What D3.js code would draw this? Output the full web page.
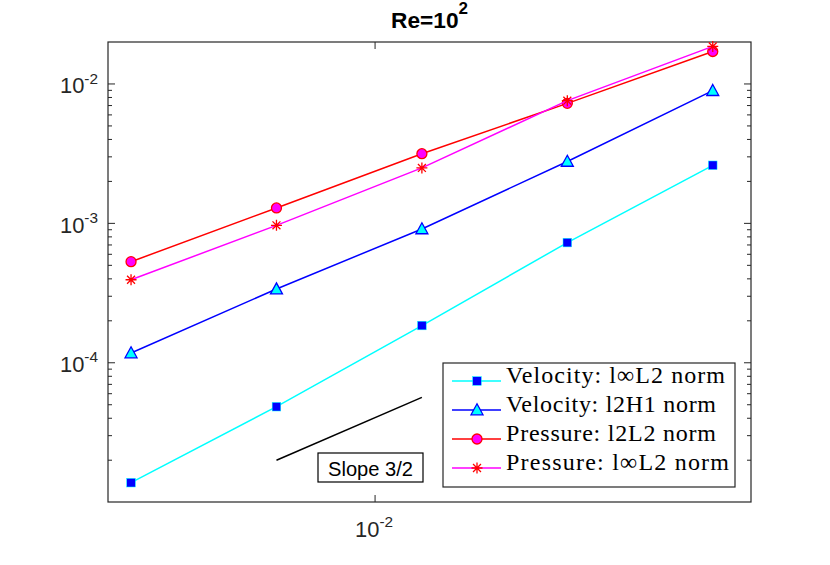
<!DOCTYPE html>
<html>
<head>
<meta charset="utf-8">
<script src="https://cdn.jsdelivr.net/npm/d3@7"></script>
<style>
  html, body { margin: 0; padding: 0; background: #fff; }
  svg { display: block; }
</style>
</head>
<body>
<div id="chart"></div>
<script>
// mesh sizes (x) and error norms (y)
const hVals    = [0.003125, 0.00625, 0.0125, 0.025, 0.05];
const velLinf  = [1.38e-5, 4.84e-5, 1.85e-4, 7.28e-4, 2.61e-3];
const velL2H1  = [1.175e-4, 3.38e-4, 9.12e-4, 2.78e-3, 8.95e-3];
const presL2   = [5.31e-4, 1.29e-3, 3.16e-3, 7.26e-3, 1.71e-2];
const presLinf = [3.94e-4, 9.68e-4, 2.50e-3, 7.59e-3, 1.86e-2];
const seriesNames = ['Velocity: l\u221EL2 norm', 'Velocity: l2H1 norm', 'Pressure: l2L2 norm', 'Pressure: l\u221EL2 norm'];
const slopeX = [0.00625, 0.0125];
const slopeY = [2.0e-5, 5.65e-5];
const xTicks = [0.01];
const yTicks = [1e-2, 1e-3, 1e-4];

const W = 830, H = 565;
const m = {left: 108, top: 42, right: 79, bottom: 63};
const iw = W - m.left - m.right, ih = H - m.top - m.bottom;
const axisCol = '#262626';
const sans = 'Liberation Sans, Arial, Helvetica, sans-serif';

const x = d3.scaleLog().domain([0.0028, 0.06]).range([0, iw]);
const y = d3.scaleLog().domain([1.003e-5, 2e-2]).range([ih, 0]);

const svg = d3.select('#chart').append('svg').attr('width', W).attr('height', H);
svg.append('rect').attr('width', W).attr('height', H).attr('fill', '#fff');
const g = svg.append('g').attr('transform', `translate(${m.left},${m.top})`);

// scale a text (and its tspans) so its drawn width hits a target
function fitWidth(t, target){
  const w = t.node().getComputedTextLength();
  if(!w) return;
  const f = target / w;
  t.attr('font-size', +t.attr('font-size') * f);
  t.selectAll('tspan').each(function(){
    const s = d3.select(this);
    if(s.attr('font-size')) s.attr('font-size', +s.attr('font-size') * f);
    if(s.attr('dy')) s.attr('dy', +s.attr('dy') * f);
  });
}

// marker painters
function drawMarker(sel, kind){
  if(kind === 'square'){
    sel.append('rect').attr('x', -4.3).attr('y', -4.3).attr('width', 8.6).attr('height', 8.6)
      .attr('fill', '#0000ff').attr('stroke', '#00ffff').attr('stroke-width', 0.5);
  } else if(kind === 'triangle'){
    sel.append('path').attr('d', 'M0,-6.2L6,4.8L-6,4.8Z')
      .attr('fill', '#00ffff').attr('stroke', '#0000ff').attr('stroke-width', 1.3);
  } else if(kind === 'circle'){
    sel.append('circle').attr('r', 5)
      .attr('fill', '#ff00ff').attr('stroke', '#ff0000').attr('stroke-width', 1.3);
  } else if(kind === 'star'){
    const r = 5.5, d = r * 0.72;
    sel.append('path').attr('d', `M0,${-r}V${r}M${-r},0H${r}M${-d},${-d}L${d},${d}M${-d},${d}L${d},${-d}`)
      .attr('fill', 'none').attr('stroke', '#ff0000').attr('stroke-width', 1.3);
  }
}

const series = [
  {name: seriesNames[0], vals: velLinf,  line: '#00ffff', marker: 'square'},
  {name: seriesNames[1], vals: velL2H1,  line: '#0000ff', marker: 'triangle'},
  {name: seriesNames[2], vals: presL2,   line: '#ff0000', marker: 'circle'},
  {name: seriesNames[3], vals: presLinf, line: '#ff00ff', marker: 'star'},
];

const clip = svg.append('clipPath').attr('id', 'plotclip');
clip.append('rect').attr('x', -8).attr('y', -8).attr('width', iw + 16).attr('height', ih + 16);

// axis ticks (inward, mirrored)
const ticksG = g.append('g').attr('stroke', axisCol).attr('stroke-width', 1);
const yMinor = [];
for(let e = -5; e <= -2; e++){
  for(let k = 2; k <= 9; k++){
    const v = k * Math.pow(10, e);
    if(v > y.domain()[0] && v < y.domain()[1]) yMinor.push(v);
  }
}
yMinor.forEach(v => {
  ticksG.append('line').attr('x1', 0).attr('x2', 4).attr('y1', y(v)).attr('y2', y(v));
  ticksG.append('line').attr('x1', iw).attr('x2', iw - 4).attr('y1', y(v)).attr('y2', y(v));
});
yTicks.forEach(v => {
  ticksG.append('line').attr('x1', 0).attr('x2', 7).attr('y1', y(v)).attr('y2', y(v));
  ticksG.append('line').attr('x1', iw).attr('x2', iw - 7).attr('y1', y(v)).attr('y2', y(v));
});
xTicks.forEach(v => {
  ticksG.append('line').attr('x1', x(v)).attr('x2', x(v)).attr('y1', ih).attr('y2', ih - 7);
  ticksG.append('line').attr('x1', x(v)).attr('x2', x(v)).attr('y1', 0).attr('y2', 7);
});

// box
g.append('rect').attr('width', iw).attr('height', ih)
  .attr('fill', 'none').attr('stroke', axisCol).attr('stroke-width', 1.2);

// tick labels with superscripts
function powLabel(sel, v){
  const e = Math.round(Math.log10(v));
  sel.append('tspan').text('10');
  sel.append('tspan').attr('dy', -9).attr('font-size', 14).text('-' + Math.abs(e));
}
yTicks.forEach(v => {
  const t = g.append('text').attr('x', -10).attr('y', y(v) + 9.5)
    .attr('text-anchor', 'end').attr('fill', axisCol)
    .attr('font-family', sans).attr('font-size', 20);
  powLabel(t, v);
  fitWidth(t, 38);
});
xTicks.forEach(v => {
  const t = g.append('text').attr('x', x(v) - 1).attr('y', ih + 34.5)
    .attr('text-anchor', 'middle').attr('fill', axisCol)
    .attr('font-family', sans).attr('font-size', 20);
  powLabel(t, v);
  fitWidth(t, 38);
});

// data
const plot = g.append('g').attr('clip-path', 'url(#plotclip)');
const lineGen = d3.line().x(d => x(d[0])).y(d => y(d[1]));
series.forEach(s => {
  const pts = hVals.map((h, i) => [h, s.vals[i]]);
  plot.append('path').datum(pts).attr('d', lineGen)
    .attr('fill', 'none').attr('stroke', s.line).attr('stroke-width', 1.5);
  pts.forEach(p => {
    const mk = plot.append('g').attr('transform', `translate(${x(p[0])},${y(p[1])})`);
    drawMarker(mk, s.marker);
  });
});

// slope reference line
plot.append('path').datum(slopeX.map((h, i) => [h, slopeY[i]])).attr('d', lineGen)
  .attr('fill', 'none').attr('stroke', '#000').attr('stroke-width', 1.5);

// slope annotation box
const ann = g.append('g').attr('transform', `translate(${318 - m.left},${453 - m.top})`);
ann.append('rect').attr('width', 105).attr('height', 29)
  .attr('fill', '#fff').attr('stroke', '#000').attr('stroke-width', 1.2);
const annT = ann.append('text').attr('x', 52.5).attr('y', 22.5).attr('text-anchor', 'middle')
  .attr('font-family', sans).attr('font-size', 20)
  .attr('fill', '#000').text('Slope 3/2');
fitWidth(annT, 85);

// legend
const legendW = [219, 210, 210, 223];
const lg = g.append('g').attr('transform', `translate(${443 - m.left},${363 - m.top})`);
lg.append('rect').attr('width', 292).attr('height', 124)
  .attr('fill', '#fff').attr('stroke', axisCol).attr('stroke-width', 1.2);
series.forEach((s, i) => {
  const row = lg.append('g').attr('transform', `translate(0,${18 + i * 29})`);
  row.append('line').attr('x1', 9).attr('x2', 58).attr('y1', 0).attr('y2', 0)
    .attr('stroke', s.line).attr('stroke-width', 1.5);
  const mk = row.append('g').attr('transform', 'translate(34,0)');
  drawMarker(mk, s.marker);
  row.append('text').attr('x', 63).attr('y', 2)
    .attr('font-family', 'Liberation Serif, Times New Roman, serif').attr('font-size', 24)
    .attr('fill', '#000').attr('textLength', legendW[i])
    .attr('lengthAdjust', 'spacing').text(s.name);
});

// title
const title = svg.append('text').attr('x', m.left + iw / 2).attr('y', 28.3)
  .attr('text-anchor', 'middle').attr('font-family', sans)
  .attr('font-size', 20).attr('font-weight', 'bold').attr('fill', '#000');
title.append('tspan').text('Re=10');
title.append('tspan').attr('dy', -13).attr('font-size', 15).text('2');
fitWidth(title, 77);
</script>
</body>
</html>
